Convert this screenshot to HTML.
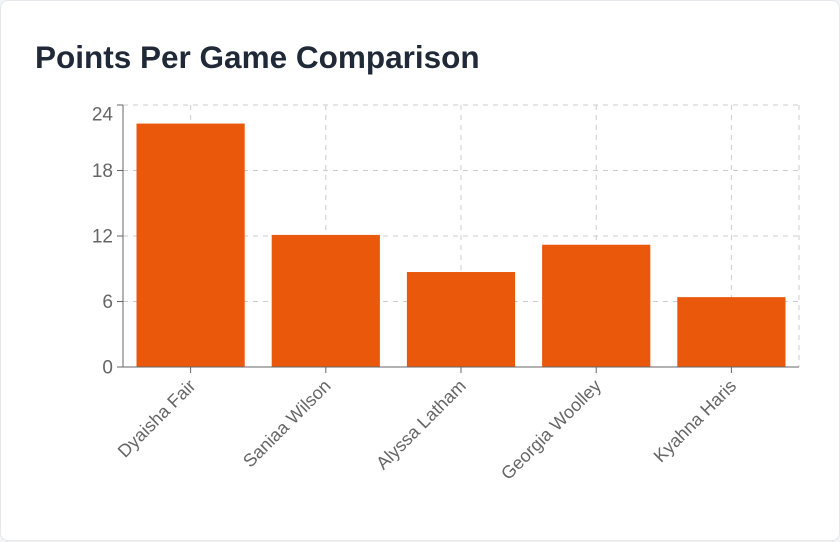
<!DOCTYPE html>
<html><head><meta charset="utf-8"><style>
body{margin:0;background:#f3f4f6;font-family:"Liberation Sans",sans-serif;}
.card{position:absolute;left:0;top:0;width:838px;height:539px;background:#fff;border:1px solid #e5e7eb;border-radius:8px;}
h1{position:absolute;left:34px;top:38px;margin:0;font-size:31.5px;font-weight:bold;color:#1f2937;}
</style></head><body>
<div class="card">
<h1>Points Per Game Comparison</h1>
<svg id="c" width="840" height="541" style="position:absolute;left:0;top:0"></svg>
</div>
<script>
const categories=["Dyaisha Fair","Saniaa Wilson","Alyssa Latham","Georgia Woolley","Kyahna Haris"];
const values=[22.3,12.1,8.7,11.2,6.4];
const yTicks=[0,6,12,18,24];
const svg=document.getElementById('c');const NS="http://www.w3.org/2000/svg";
const L=122,R=798,T=104,B=366,maxY=24;
const y=v=>B-(v/maxY)*(B-T);
const bw=(R-L)/categories.length;
const x=i=>L+i*bw;
function el(t,a,p){const e=document.createElementNS(NS,t);for(const k in a)e.setAttribute(k,a[k]);(p||svg).appendChild(e);return e;}
yTicks.forEach(t=>{
 if(t>0){const g=el('line',{x1:L,x2:R,y1:y(t),y2:y(t),stroke:'#ccc','stroke-dasharray':'5 5'});
 
 }
 const tk=el('line',{x1:L-6,x2:L,y1:y(t),y2:y(t),stroke:'#666'});
 
 
 const tx=el('text',{x:L-10,y:(t===maxY?y(t)+9:y(t))+6.5,'text-anchor':'end','font-size':'19',fill:'#666'});
 tx.textContent=t;
 
 
});
el('line',{x1:R,x2:R,y1:T,y2:B,stroke:'#ccc','stroke-dasharray':'5 5'});
categories.forEach((c,i)=>{
 const cx=x(i)+bw/2;
 const g=el('line',{x1:cx,x2:cx,y1:T,y2:B,stroke:'#ccc','stroke-dasharray':'5 5'});
 
 
});
categories.forEach((c,i)=>{
 const cx=x(i)+bw/2;
 const r=el('rect',{x:x(i)+13.5,y:y(values[i]),width:bw-27,height:B-y(values[i]),fill:'#ea580c'});
 
 
 const tk=el('line',{x1:cx,x2:cx,y1:B,y2:B+6,stroke:'#666'});
 
 
 const t=el('text',{x:cx+6,y:B+20,'text-anchor':'end','font-size':'18',fill:'#666',transform:`rotate(-45 ${cx+6} ${B+20})`});
 t.textContent=c;
 
 
});
const ya=el('line',{x1:L,x2:L,y1:T,y2:B,stroke:'#666'});


const xa=el('line',{x1:L,x2:R,y1:B,y2:B,stroke:'#666'});


</script>
</body></html>
